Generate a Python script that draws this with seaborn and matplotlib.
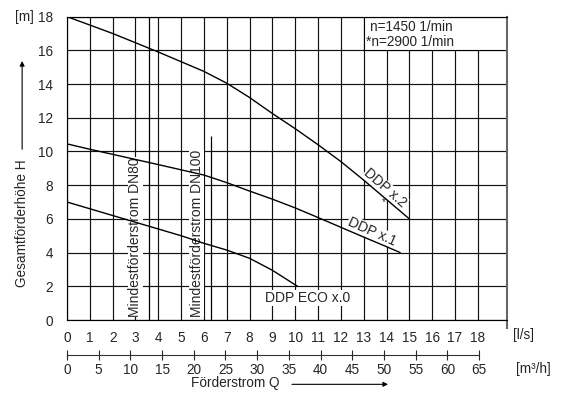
import numpy as np
import pandas as pd
import matplotlib.pyplot as plt
import seaborn as sns
from matplotlib.patches import Rectangle

# pump curves, Q in l/s, H in m
q_x2 = [0, 2, 4, 6, 7, 8, 9, 10, 11, 12, 13, 14, 15]
h_x2 = [18, 17.0, 15.9, 14.75, 14.05, 13.2, 12.25, 11.35, 10.4, 9.4, 8.3, 7.15, 6.0]
q_x1 = [0, 1, 2, 4, 6, 7, 8, 9, 10, 11, 12, 13, 14, 14.6]
h_x1 = [10.45, 10.13, 9.83, 9.22, 8.6, 8.15, 7.65, 7.17, 6.65, 6.08, 5.5, 4.92, 4.35, 4.0]
q_x0 = [0, 1, 2, 3, 4, 5, 6, 7, 8, 9, 10.1]
h_x0 = [7.0, 6.6, 6.2, 5.8, 5.4, 5.0, 4.55, 4.15, 3.66, 2.95, 2.0]

# minimum flow lines (DN80, DN100)
min_q = [3.6, 6.3]
min_top = [18, 10.9]
min_labels = ["Mindestförderstrom DN80", "Mindestförderstrom DN100"]

ls_ticks = list(range(0, 19))
m3h_ticks = list(range(0, 70, 5))
h_ticks = list(range(0, 20, 2))

df = pd.concat([
    pd.DataFrame({"Q": q_x2, "H": h_x2, "pump": "DDP x.2"}),
    pd.DataFrame({"Q": q_x1, "H": h_x1, "pump": "DDP x.1"}),
    pd.DataFrame({"Q": q_x0, "H": h_x0, "pump": "DDP ECO x.0"}),
])

sns.set_style("white")
plt.rcParams['font.family'] = ['Liberation Sans', 'DejaVu Sans']
plt.rcParams['font.size'] = 9.5

fig = plt.figure(figsize=(5.67, 3.94), dpi=100)
ax = fig.add_axes([0.1182, 0.1878, 0.776, 0.770])

sns.lineplot(data=df, x="Q", y="H", units="pump", estimator=None, sort=False,
             color="black", lw=1.0, ax=ax, zorder=3)

ax.set_xlim(0, 19.28)
ax.set_ylim(0, 18)
ax.set_xticks(ls_ticks)
ax.set_yticks(h_ticks)
ax.set_axisbelow(True)
ax.grid(True, color="#111111", lw=0.85)
ax.tick_params(axis="x", length=0, pad=8, labelsize=9.8)
ax.tick_params(axis="y", length=6, width=0.8, direction="out", pad=4, labelsize=9.8)
ax.set_xlabel("")
ax.set_ylabel("")
for s in ["left", "bottom", "top"]:
    ax.spines[s].set_color("black")
    ax.spines[s].set_linewidth(0.85)
ax.spines["right"].set_color("#666666")
ax.spines["right"].set_linewidth(1.5)
ax.spines["right"].set_bounds(-0.45, 18)

# minimum flow lines + labels
ax.vlines(min_q, 0, min_top, color="black", lw=0.9, zorder=2)
for xq, lab in zip([3.0, 5.68], min_labels):
    ax.text(xq, 0.2, lab, rotation=90, ha="center", va="bottom", fontsize=10,
            bbox=dict(facecolor="white", edgecolor="none", pad=0.3), zorder=1.6)

# curve labels
ax.text(13.94, 7.81, "DDP x.2", rotation=-41, ha="center", va="center", fontsize=10,
        bbox=dict(facecolor="white", edgecolor="none", pad=0.3), zorder=1.6)
ax.text(13.86, 7.0, "*", ha="center", va="center", fontsize=7, zorder=1.7)
ax.text(13.35, 5.24, "DDP x.1", rotation=-24, ha="center", va="center", fontsize=10,
        bbox=dict(facecolor="white", edgecolor="none", pad=0.3), zorder=1.6)
ax.text(10.56, 1.3, "DDP ECO x.0", ha="center", va="center", fontsize=10,
        bbox=dict(facecolor="white", edgecolor="none", pad=0.5), zorder=1.6)

# speed box
ax.add_patch(Rectangle((13, 16), 6.28, 2, facecolor="white", edgecolor="black",
                       lw=0.8, zorder=1.5))
ax.text(13.28, 17.4, "n=1450 1/min", ha="left", va="center", fontsize=9.8, zorder=3)
ax.text(13.09, 16.5, "*n=2900 1/min", ha="left", va="center", fontsize=9.8, zorder=3)

# second flow scale in m3/h
sec = ax.secondary_xaxis(-0.115, functions=(lambda q: q * 3.6, lambda m: m / 3.6))
sec.set_xticks(m3h_ticks)
sec.spines["bottom"].set_bounds(0, 65)
sec.spines["bottom"].set_color("#333333")
sec.tick_params(direction="inout", length=7, width=0.8, pad=2, labelsize=9.8)

# unit labels
fig.text(24 / 567, 1 - 16.5 / 394, "[m]", ha="center", va="center", fontsize=9.8)
fig.text(524 / 567, 1 - 335 / 394, "[l/s]", ha="center", va="center", fontsize=9.8)
fig.text(533 / 567, 1 - 369 / 394, "[m³/h]", ha="center", va="center", fontsize=9.8)

# axis titles with arrows
ax.text(0.382, -0.207, "Förderstrom Q", transform=ax.transAxes, ha="center", va="center",
        fontsize=9.8)
ax.annotate("", xy=(0.736, -0.212), xytext=(0.505, -0.212), xycoords="axes fraction",
            arrowprops=dict(arrowstyle="-|>", lw=0.8, color="black", mutation_scale=7),
            annotation_clip=False)
ax.text(-0.102, 0.318, "Gesamtförderhöhe H", transform=ax.transAxes, rotation=90,
        ha="center", va="center", fontsize=9.8)
ax.annotate("", xy=(-0.102, 0.863), xytext=(-0.102, 0.5535), xycoords="axes fraction",
            arrowprops=dict(arrowstyle="-|>", lw=0.8, color="black", mutation_scale=7),
            annotation_clip=False)

fig.savefig("out.png", dpi=100, facecolor="white")
